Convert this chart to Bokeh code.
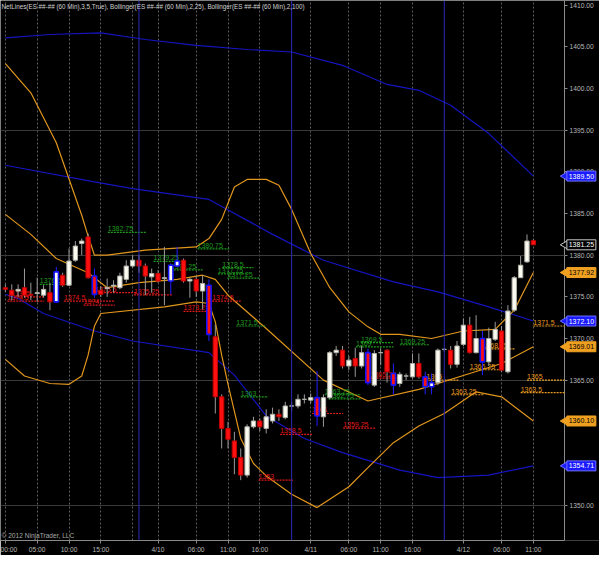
import math
from bokeh.plotting import figure
from bokeh.models import Range1d, FixedTicker, NumeralTickFormatter, Span, Label, ColumnDataSource
from bokeh.core.properties import value
from bokeh.embed import file_html
from bokeh.resources import INLINE

# ---------------- data (hourly bars, ES 60 min) ----------------
bar_open = [1376.1, 1375.8, 1375.7, 1376.1, 1375.3, 1375.4, 1375.2, 1375.5, 1374.4, 1377.6,
            1376.4, 1379.4, 1381.4, 1382.2, 1377.5, 1375.8, 1376.0, 1376.3, 1376.1, 1377.1,
            1378.7, 1379.4, 1378.7, 1377.4, 1377.8, 1377.2, 1376.9, 1378.7, 1379.4, 1376.9,
            1377.1, 1375.7, 1376.4, 1370.2, 1363.0, 1359.2, 1357.7, 1355.7, 1353.6, 1359.4,
            1360.1, 1359.2, 1360.1, 1360.9, 1360.5, 1361.9, 1361.9, 1362.7, 1362.6, 1362.9,
            1360.6, 1362.9, 1368.3, 1368.6, 1366.7, 1367.6, 1366.7, 1368.3, 1364.4, 1368.3,
            1368.6, 1365.8, 1364.6, 1365.5, 1365.4, 1367.0, 1365.4, 1364.2, 1364.7, 1368.7,
            1368.6, 1366.9, 1369.3, 1371.6, 1368.3, 1370.0, 1367.2, 1369.9, 1370.9, 1366.0,
            1373.4, 1377.3, 1379.2, 1381.75]
bar_high = [1376.5, 1376.5, 1376.5, 1378.4, 1376.7, 1377.3, 1376.4, 1376.7, 1378.6, 1377.9,
            1380.8, 1381.7, 1382.0, 1382.6, 1378.4, 1376.3, 1377.2, 1377.0, 1377.9, 1379.4,
            1380.0, 1380.0, 1379.0, 1378.4, 1378.2, 1381.0, 1379.0, 1381.0, 1379.6, 1377.3,
            1377.5, 1377.6, 1377.1, 1371.7, 1363.3, 1360.0, 1358.8, 1356.8, 1359.7, 1360.6,
            1360.4, 1361.5, 1361.7, 1361.5, 1362.4, 1362.4, 1363.3, 1363.3, 1363.4, 1366.1,
            1363.3, 1368.5, 1369.1, 1369.1, 1367.9, 1368.9, 1369.1, 1368.8, 1368.6, 1368.8,
            1368.7, 1367.0, 1366.0, 1365.8, 1368.2, 1368.2, 1366.0, 1365.8, 1368.8, 1368.8,
            1369.1, 1369.7, 1372.4, 1372.6, 1372.8, 1370.9, 1371.3, 1372.0, 1371.5, 1374.0,
            1377.5, 1379.9, 1382.5, 1381.9]
bar_low = [1375.6, 1374.6, 1375.0, 1374.9, 1374.6, 1374.4, 1374.9, 1373.4, 1374.3, 1376.2,
           1376.3, 1379.2, 1380.0, 1377.2, 1374.9, 1375.0, 1375.0, 1375.5, 1375.9, 1376.7,
           1378.5, 1377.9, 1375.2, 1375.5, 1376.7, 1374.0, 1375.3, 1378.6, 1376.7, 1374.9,
           1375.0, 1373.5, 1369.7, 1361.0, 1356.8, 1356.8, 1353.7, 1353.0, 1353.3, 1359.2,
           1358.9, 1358.6, 1359.8, 1360.1, 1360.3, 1361.3, 1361.6, 1362.2, 1362.2, 1359.5,
           1359.4, 1362.7, 1367.9, 1366.4, 1366.2, 1365.4, 1366.4, 1364.4, 1364.2, 1366.8,
           1364.7, 1363.3, 1364.2, 1365.0, 1365.2, 1365.2, 1363.3, 1363.3, 1364.4, 1368.4,
           1366.4, 1366.5, 1369.1, 1368.2, 1368.2, 1365.6, 1366.7, 1369.7, 1366.0, 1365.8,
           1373.2, 1377.3, 1379.1, 1381.25]
bar_close = [1375.9, 1375.2, 1375.9, 1375.2, 1375.2, 1375.5, 1375.9, 1374.4, 1378.0, 1376.4,
             1379.3, 1381.1, 1381.7, 1377.3, 1375.3, 1375.3, 1376.1, 1376.4, 1377.5, 1378.7,
             1379.4, 1378.7, 1377.5, 1377.8, 1376.9, 1377.3, 1378.8, 1379.3, 1376.9, 1377.1,
             1375.7, 1376.6, 1370.5, 1363.0, 1359.2, 1357.9, 1355.7, 1353.6, 1359.4, 1360.1,
             1359.4, 1360.6, 1360.9, 1360.6, 1361.9, 1361.9, 1362.7, 1362.7, 1362.9, 1360.7,
             1362.9, 1368.3, 1368.6, 1366.7, 1367.4, 1366.7, 1368.3, 1364.7, 1368.2, 1368.3,
             1366.0, 1364.4, 1365.7, 1365.5, 1367.0, 1365.4, 1364.2, 1364.7, 1368.6, 1368.7,
             1366.9, 1369.1, 1371.6, 1368.3, 1370.0, 1367.2, 1370.0, 1371.1, 1366.2, 1373.3,
             1377.3, 1378.8, 1381.7, 1381.25]
painted_bars = [8, 14, 26, 27, 32, 49, 57, 61, 66, 67, 75]

# Bollinger (2,25) - orange
bb25_upper_x = [0, 4, 8, 12, 13, 14, 16, 22, 30, 32, 34, 36, 38, 41, 43, 45, 48, 51, 54, 57, 59, 62, 67, 72, 77, 80, 83]
bb25_upper = [1403.0, 1399.5, 1393.5, 1384.8, 1382.3, 1380.0, 1380.0, 1380.6, 1381.0, 1382.0, 1384.3, 1388.2,
              1389.1, 1389.1, 1388.4, 1385.5, 1380.2, 1376.1, 1373.2, 1371.4, 1370.5, 1370.5, 1370.0,
              1370.9, 1371.1, 1373.4, 1377.92]
bb25_mid_x = [0, 4, 8, 13, 16, 21, 27, 31, 33, 35, 41, 50, 57, 65, 73, 78, 83]
bb25_mid = [1384.9, 1382.5, 1379.6, 1377.9, 1376.1, 1376.7, 1377.1, 1377.6, 1377.1, 1375.2, 1371.2,
            1365.0, 1362.5, 1363.9, 1365.8, 1367.0, 1369.01]
bb25_lower_x = [0, 3, 7, 10, 12, 13, 14, 15, 25, 30, 32, 33, 34, 35, 37, 39, 41, 45, 49, 54, 57, 61, 65, 69, 74, 78, 83]
bb25_lower = [1367.5, 1365.5, 1364.6, 1364.5, 1365.5, 1368.0, 1371.5, 1373.0, 1373.8, 1374.4, 1374.2,
              1372.0, 1368.0, 1364.5, 1358.0, 1355.0, 1353.5, 1351.3, 1349.7, 1352.2, 1354.5, 1357.5,
              1359.5, 1361.0, 1363.6, 1363.0, 1360.10]

# Bollinger (2,100) - blue
bb100_upper_x = [0, 7, 15, 22, 30, 38, 45, 53, 60, 65, 70, 76, 83]
bb100_upper = [1406.1, 1406.5, 1406.7, 1405.9, 1405.2, 1404.7, 1404.4, 1402.8, 1400.5, 1399.8, 1398.0, 1394.6, 1389.50]
bb100_mid_x = [0, 14, 20, 32, 42, 50, 61, 68, 76, 83]
bb100_mid = [1390.8, 1388.8, 1388.0, 1386.7, 1382.5, 1379.4, 1376.8, 1375.6, 1373.8, 1372.10]
bb100_lower_x = [0, 2, 6, 14, 20, 32, 36, 41, 47, 53, 62, 68, 76, 83]
bb100_lower = [1375.3, 1374.8, 1373.0, 1370.9, 1369.7, 1368.3, 1365.6, 1360.7, 1358.0, 1356.3, 1354.2,
               1353.3, 1353.6, 1354.71]

# NetLines: price, first bar, last bar
net_red_price = [1374.5, 1375.0, 1374.5, 1374.0, 1375.5, 1375.25, 1373.25, 1374.5, 1353.0, 1358.5, 1361.0, 1359.25, 1365.25]
net_red_start = [0.3, 1.5, 9.2, 12.3, 14.1, 20.2, 28.0, 32.5, 39.8, 43.2, 48.2, 53.1, 57.4]
net_red_end = [6.1, 6.1, 17.2, 17.2, 20.7, 26.3, 32.5, 37.0, 45.2, 48.2, 53.1, 58.2, 62.0]
net_green_price = [1376.5, 1382.75, 1379.25, 1378.25, 1380.75, 1378.5, 1377.75, 1377.25, 1371.5, 1363.0,
                   1363.25, 1362.75, 1369.5, 1369.0, 1369.25]
net_green_start = [5.4, 16.1, 23.3, 26.0, 30.2, 34.1, 33.4, 34.9, 36.3, 37.0, 50.2, 50.8, 55.9, 55.1, 62.0]
net_green_end = [10.3, 22.2, 28.3, 31.0, 35.2, 39.0, 38.0, 40.1, 41.0, 41.3, 55.9, 55.9, 61.0, 61.0, 66.6]
net_orange_price = [1365.0, 1363.25, 1366.25, 1368.75, 1371.5, 1365.0, 1363.5]
net_orange_start = [66.2, 70.1, 73.0, 75.0, 83.0, 82.0, 81.0]
net_orange_end = [71.2, 75.3, 78.1, 80.1, 87.9, 87.9, 87.9]

y_ticks = [1350, 1355, 1360, 1365, 1370, 1375, 1380, 1385, 1390, 1395, 1400, 1405, 1410]
y_grid = [1350, 1365, 1380, 1395]
x_ticks = [0, 5, 10, 15, 24, 30, 35, 40, 48, 54, 59, 64, 72, 78, 83]
x_labels = ["00:00", "05:00", "10:00", "15:00", "4/10", "06:00", "11:00", "16:00",
            "4/11", "06:00", "11:00", "16:00", "4/12", "06:00", "11:00"]
x_grid = [0, 5, 10, 15, 20, 24, 30, 35, 40, 48, 54, 59, 64, 72, 78, 83]
session_breaks = [21, 45, 69]

TITLE = "NetLines(ES ##-## (60 Min),3,5,True), Bollinger(ES ##-## (60 Min),2,25), Bollinger(ES ##-## (60 Min),2,100)"
FONT = "Liberation Sans"

# ---------------- layout constants ----------------
W, H = 599, 555
X0, X_AXIS, X1 = -0.77, 87.9, 93.4        # left edge, price-axis position, right edge (bar units)
Y0, Y1 = 1345.75, 1410.58

p = figure(width=W, height=H, x_range=Range1d(X0, X1), y_range=Range1d(Y0, Y1),
           output_backend="svg", toolbar_location=None, y_axis_location="right",
           background_fill_color="black", border_fill_color="black",
           min_border_left=0, min_border_top=0, min_border_right=0, min_border_bottom=15)
p.outline_line_color = None

for ax in (p.xaxis[0], p.yaxis[0]):
    ax.axis_line_color = "#8a8a8a"
    ax.major_tick_line_color = "#8a8a8a"
    ax.minor_tick_line_color = None
    ax.major_tick_in = 0
    ax.major_tick_out = 3
    ax.major_label_text_color = "#b8b8b8"
    ax.major_label_text_font = FONT
    ax.major_label_text_font_size = "6.7px"
    ax.major_label_standoff = 2

# price axis drawn at a fixed x inside the frame so price markers can sit on top of it
p.yaxis.fixed_location = X_AXIS
p.yaxis.level = "underlay"
p.yaxis.ticker = FixedTicker(ticks=y_ticks)
p.yaxis.formatter = NumeralTickFormatter(format="0.00")
p.xaxis.ticker = FixedTicker(ticks=x_ticks)
p.xaxis.major_label_overrides = {t: s for t, s in zip(x_ticks, x_labels)}
p.xaxis.bounds = (X0, X_AXIS)

p.xgrid.ticker = FixedTicker(ticks=x_grid)
p.xgrid.grid_line_color = "#5c5c5c"
p.xgrid.grid_line_dash = "2 2"
p.ygrid.ticker = FixedTicker(ticks=y_grid)
p.ygrid.grid_line_color = "#3a3a3a"
if "cross_bounds" in p.ygrid[0].properties():
    p.ygrid.cross_bounds = (X0, X_AXIS)

for b in session_breaks:
    p.add_layout(Span(location=b, dimension="height", line_color="#2a2ab8", line_width=1))

# ---------------- Bollinger bands ----------------
orange = "#e0961c"
blue = "#1414c0"
p.line(bb100_upper_x, bb100_upper, line_color=blue, line_width=1.2)
p.line(bb100_mid_x, bb100_mid, line_color=blue, line_width=1.2)
p.line(bb100_lower_x, bb100_lower, line_color=blue, line_width=1.2)
p.line(bb25_upper_x, bb25_upper, line_color=orange, line_width=1.2)
p.line(bb25_mid_x, bb25_mid, line_color=orange, line_width=1.2)
p.line(bb25_lower_x, bb25_lower, line_color=orange, line_width=1.2)

# ---------------- NetLines ----------------
def netlines(prices, starts, ends, color):
    src = ColumnDataSource(dict(x0=starts, x1=ends, y=prices,
                                label=[("%g" % v) for v in prices]))
    p.segment(x0="x0", y0="y", x1="x1", y1="y", source=src, line_color=color,
              line_width=1.2, line_dash="2 1")
    p.text(x="x0", y="y", text="label", source=src, text_color=color,
           text_font=value(FONT), text_font_size="7px", text_baseline="bottom",
           text_align="left", y_offset=-1)

netlines(net_red_price, net_red_start, net_red_end, "#e01818")
netlines(net_green_price, net_green_start, net_green_end, "#1f9a1f")
netlines(net_orange_price, net_orange_start, net_orange_end, "#e89a20")

# ---------------- candles ----------------
n = len(bar_open)
idx = list(range(n))
up = [c >= o for o, c in zip(bar_open, bar_close)]
painted = [i in painted_bars for i in idx]
src = ColumnDataSource(dict(
    x=idx, high=bar_high, low=bar_low,
    top=[max(o, c) for o, c in zip(bar_open, bar_close)],
    bottom=[min(o, c) for o, c in zip(bar_open, bar_close)],
    fill=["#fbfbf2" if u else "#ff1010" for u in up],
    line=["#1414ff" if pt else ("#b0b0a8" if u else "#c00000") for u, pt in zip(up, painted)],
    lw=[1.6 if pt else 1.0 for pt in painted],
    wick=["#2020ff" if pt else "#9a9a9a" for pt in painted],
))
p.segment(x0="x", y0="high", x1="x", y1="low", source=src, line_color="wick", line_width=1)
p.vbar(x="x", width=0.68, top="top", bottom="bottom", source=src,
       fill_color="fill", line_color="line", line_width="lw")

# ---------------- texts ----------------
p.add_layout(Label(x=X0, y=Y1, text=TITLE, text_color="#d0d0d0", text_font=FONT,
                   text_font_size="6.3px", text_baseline="top", text_align="left", x_offset=1, y_offset=-2))
p.add_layout(Label(x=X0, y=Y0, text="\u00a9 2012 NinjaTrader, LLC", text_color="#a8a8a8",
                   text_font=FONT, text_font_size="6.6px", text_baseline="bottom", text_align="left",
                   x_offset=1, y_offset=2))

# ---------------- right-axis price markers ----------------
mk_val = [bb100_upper[-1], bar_close[-1], bb25_upper[-1], bb100_mid[-1],
          bb25_mid[-1], bb25_lower[-1], bb100_lower[-1]]
mk_bg = ["#1a1aff", "#000000", "#f0a020", "#1a1aff", "#f0a020", "#f0a020", "#1a1aff"]
mk_fg = ["#ffffff", "#ffffff", "#000000", "#ffffff", "#000000", "#000000", "#ffffff"]
mk_bd = ["#7070ff", "#c8c8c8", "#f0a020", "#7070ff", "#f0a020", "#f0a020", "#7070ff"]
box_x = (X_AXIS + X1) / 2 - 0.1
msrc = ColumnDataSource(dict(x=[box_x] * len(mk_val), ax=[X_AXIS + 0.15] * len(mk_val), y=mk_val,
                             bg=mk_bg, fg=mk_fg, bd=mk_bd,
                             label=["%.2f" % v for v in mk_val]))
p.scatter(x="ax", y="y", source=msrc, marker="triangle", angle=math.pi / 2, size=9,
          fill_color="bg", line_color="bd", line_width=1)
p.rect(x="x", y="y", width=29, height=10, width_units="screen", height_units="screen",
       source=msrc, fill_color="bg", line_color="bd", line_width=1)
p.text(x="x", y="y", text="label", source=msrc, text_color="fg", text_font=value(FONT),
       text_font_size="7px", text_baseline="middle", text_align="center")

open("out.html", "w").write(file_html(p, INLINE))
